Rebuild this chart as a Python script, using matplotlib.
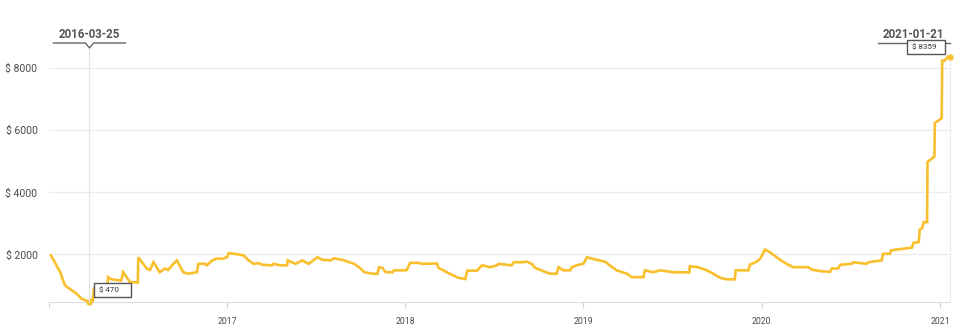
import matplotlib
matplotlib.use("Agg")
import matplotlib.pyplot as plt
import matplotlib.dates as mdates
import pandas as pd
from matplotlib.lines import Line2D
from matplotlib.patches import Rectangle

# price history
dates = [
    "2016-01-06", "2016-01-14", "2016-01-25", "2016-01-31", "2016-02-04", "2016-02-14",
    "2016-02-28", "2016-03-09", "2016-03-19", "2016-03-25", "2016-03-29", "2016-04-01",
    "2016-04-03", "2016-05-01", "2016-05-02", "2016-05-09", "2016-05-29", "2016-06-02",
    "2016-06-16", "2016-07-02", "2016-07-03", "2016-07-20", "2016-07-27", "2016-08-03",
    "2016-08-16", "2016-08-27", "2016-09-02", "2016-09-13", "2016-09-20", "2016-10-03",
    "2016-10-13", "2016-10-31", "2016-11-03", "2016-11-17", "2016-11-20", "2016-12-02",
    "2016-12-11", "2016-12-21",
    "2017-01-01", "2017-01-04", "2017-01-21", "2017-02-04", "2017-02-14", "2017-02-24",
    "2017-03-07", "2017-03-14", "2017-04-03", "2017-04-06", "2017-04-20", "2017-05-04",
    "2017-05-05", "2017-05-21", "2017-06-04", "2017-06-17", "2017-07-05", "2017-07-15",
    "2017-08-01", "2017-08-08", "2017-08-29", "2017-09-04", "2017-09-18", "2017-10-02",
    "2017-10-09", "2017-10-26", "2017-11-05", "2017-11-08", "2017-11-15", "2017-11-22",
    "2017-12-06", "2017-12-09",
    "2018-01-01", "2018-01-04", "2018-01-11", "2018-01-28", "2018-02-04", "2018-03-07",
    "2018-03-10", "2018-03-27", "2018-04-10", "2018-04-20", "2018-05-04", "2018-05-08",
    "2018-05-28", "2018-06-07", "2018-06-24", "2018-07-08", "2018-07-11", "2018-08-07",
    "2018-08-11", "2018-08-28", "2018-09-07", "2018-09-17", "2018-09-24", "2018-10-11",
    "2018-10-25", "2018-11-07", "2018-11-11", "2018-11-21", "2018-12-05", "2018-12-08",
    "2018-12-22",
    "2019-01-01", "2019-01-08", "2019-01-28", "2019-02-14", "2019-02-24", "2019-03-10",
    "2019-03-31", "2019-04-10", "2019-05-04", "2019-05-07", "2019-05-24", "2019-06-07",
    "2019-06-21", "2019-07-04", "2019-08-06", "2019-08-07", "2019-08-24", "2019-09-11",
    "2019-09-24", "2019-10-08", "2019-10-21", "2019-11-07", "2019-11-09", "2019-12-05",
    "2019-12-08", "2019-12-22", "2019-12-29",
    "2020-01-08", "2020-01-21", "2020-02-08", "2020-02-21", "2020-03-06", "2020-03-20",
    "2020-04-06", "2020-04-13", "2020-05-03", "2020-05-20", "2020-05-24", "2020-06-06",
    "2020-06-10", "2020-07-04", "2020-07-07", "2020-08-03", "2020-08-07", "2020-09-03",
    "2020-09-06", "2020-09-20", "2020-09-22", "2020-10-04", "2020-11-04", "2020-11-07",
    "2020-11-18", "2020-11-20", "2020-11-25", "2020-11-28", "2020-12-05", "2020-12-06",
    "2020-12-15", "2020-12-20", "2020-12-21", "2020-12-29",
    "2021-01-04", "2021-01-05", "2021-01-10", "2021-01-17", "2021-01-21",
]
prices = [
    1970, 1750, 1430, 1160, 1000, 890,
    730, 570, 515, 470, 540, 520,
    900, 1000, 1270, 1200, 1160, 1430,
    1110, 1100, 1910, 1550, 1500, 1750,
    1430, 1550, 1500, 1700, 1810, 1430,
    1380, 1430, 1700, 1700, 1650, 1810,
    1870, 1860,
    1910, 2040, 2010, 1970, 1810, 1700,
    1720, 1670, 1650, 1700, 1650, 1650,
    1810, 1700, 1810, 1700, 1910, 1830,
    1810, 1880, 1810, 1770, 1700, 1540,
    1430, 1380, 1380, 1590, 1570, 1430,
    1430, 1490,
    1490, 1500, 1730, 1730, 1700, 1710,
    1570, 1430, 1320, 1250, 1210, 1480,
    1480, 1650, 1590, 1650, 1700, 1650,
    1750, 1750, 1770, 1700, 1570, 1460,
    1380, 1380, 1590, 1490, 1490, 1590,
    1670,
    1700, 1910, 1830, 1770, 1650, 1490,
    1380, 1270, 1270, 1490, 1430, 1490,
    1460, 1430, 1420, 1620, 1590, 1490,
    1380, 1250, 1200, 1200, 1490, 1490,
    1670, 1770, 1860,
    2160, 2040, 1830, 1700, 1590, 1590,
    1590, 1510, 1460, 1440, 1550, 1550,
    1670, 1700, 1750, 1700, 1750, 1810,
    2020, 2020, 2130, 2160, 2220, 2370,
    2400, 2800, 2850, 3040, 3040, 4980,
    5090, 5150, 6240, 6320,
    6390, 8240, 8240, 8370, 8359,
]

year_ticks = ["2016-01-01", "2017-01-01", "2018-01-01", "2019-01-01", "2020-01-01", "2021-01-01"]
year_labels = ["", "2017", "2018", "2019", "2020", "2021"]
y_ticks = [2000, 4000, 6000, 8000]

low_date, low_price = "2016-03-25", 470
last_date, last_price = "2021-01-21", 8359

W, H = 960, 332
LINE = "#F9BF2C"
TXT = "#4a4a4a"

plt.rcParams["font.family"] = ["Roboto", "DejaVu Sans"]

fig = plt.figure(figsize=(W / 100, H / 100), dpi=100)
ax = fig.add_axes([48.5 / W, 1 - 302 / H, 901.5 / W, 245 / H])

x = pd.to_datetime(dates)
ax.plot(x, prices, color=LINE, lw=1.9, solid_joinstyle="miter", clip_on=False, zorder=3)
ax.plot(pd.to_datetime([low_date, last_date]), [low_price, last_price], "o",
        color=LINE, ms=3.5, clip_on=False, zorder=4)

ax.set_xlim(pd.Timestamp("2016-01-01"), pd.Timestamp(last_date))
ax.set_ylim(low_price, last_price)

ax.set_yticks(y_ticks)
ax.set_yticklabels([f"$ {v}" for v in y_ticks])
ax.set_xticks(pd.to_datetime(year_ticks))
ax.set_xticklabels(year_labels)

ax.yaxis.grid(True, color="#ececec", lw=0.8)
ax.set_axisbelow(True)
for s in ["top", "left"]:
    ax.spines[s].set_visible(False)
ax.spines["bottom"].set_color("#dddddd")
ax.spines["right"].set_color("#ececec")
ax.tick_params(axis="x", length=4, color="#d5d5d5", labelsize=6.3, labelcolor=TXT, pad=7)
ax.tick_params(axis="y", length=0, labelsize=7.5, labelcolor=TXT, pad=8)


def fig_xy(px, py):
    # pixel position measured from the top-left corner -> figure fraction
    return px / W, 1 - py / H


def date_px(d):
    return ax.transData.transform((mdates.date2num(pd.Timestamp(d)), 0))[0]


# hover marker at the low point
lx = date_px(low_date)
xs, ys = zip(*[fig_xy(lx, 49), fig_xy(lx, 302)])
fig.add_artist(Line2D(xs, ys, color="#e4e4e4", lw=0.9, zorder=1))
pts = [fig_xy(lx - 36, 43), fig_xy(lx - 4, 43), fig_xy(lx, 48),
       fig_xy(lx + 4, 43), fig_xy(lx + 36, 43)]
xs, ys = zip(*pts)
fig.add_artist(Line2D(xs, ys, color="#666666", lw=1))
fig.text(*fig_xy(lx, 34), low_date, ha="center", va="center",
         fontsize=8.3, fontweight="bold", color="#555555")
bx, by = fig_xy(lx + 5, 297)
fig.add_artist(Rectangle((bx, by), 37 / W, 14 / H, fc="white", ec="#555555", lw=1, zorder=5))
fig.text(*fig_xy(lx + 10, 290), f"$ {low_price}", ha="left", va="center",
         fontsize=5.8, color="#333333", zorder=6)

# last point label
rx = date_px(last_date)
xs, ys = zip(*[fig_xy(rx - 72, 43), fig_xy(rx, 43)])
fig.add_artist(Line2D(xs, ys, color="#666666", lw=1))
fig.text(*fig_xy(rx - 37, 34), last_date, ha="center", va="center",
         fontsize=8.3, fontweight="bold", color="#555555")
bx, by = fig_xy(rx - 43, 54)
fig.add_artist(Rectangle((bx, by), 38 / W, 14 / H, fc="white", ec="#555555", lw=1, zorder=5))
fig.text(*fig_xy(rx - 38, 47), f"$ {last_price}", ha="left", va="center",
         fontsize=5.8, color="#333333", zorder=6)

fig.savefig("out.png", dpi=100)
